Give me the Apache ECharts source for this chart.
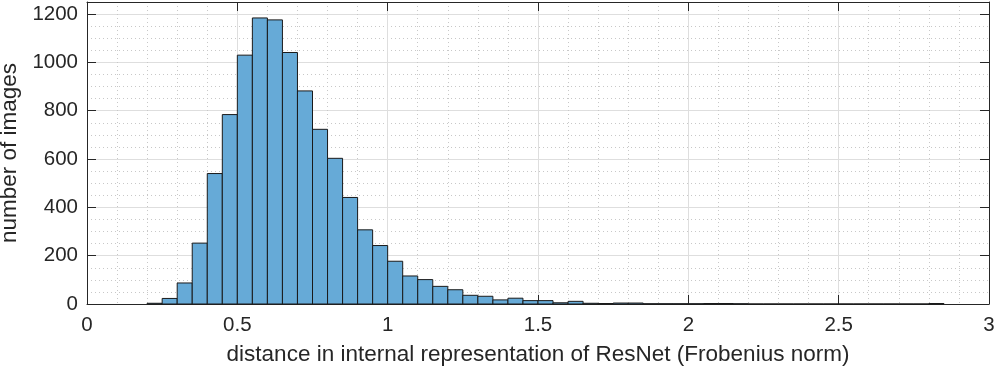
<!DOCTYPE html>
<html>
<head>
<meta charset="utf-8">
<script src="https://cdn.jsdelivr.net/npm/echarts@6/dist/echarts.min.js"></script>
<style>
  html, body { margin: 0; padding: 0; background: #fff; }
  #chart { width: 997px; height: 369px; }
</style>
</head>
<body>
<div id="chart"></div>
<script>
// histogram bins (left edge), width 0.05
const binWidth = 0.05
const binLeft = [
  0.20, 0.25, 0.30, 0.35, 0.40, 0.45, 0.50, 0.55, 0.60, 0.65,
  0.70, 0.75, 0.80, 0.85, 0.90, 0.95, 1.00, 1.05, 1.10, 1.15,
  1.20, 1.25, 1.30, 1.35, 1.40, 1.45, 1.50, 1.55, 1.60, 1.65,
  1.70, 1.75, 1.80, 1.85, 1.90, 1.95, 2.00, 2.05, 2.10, 2.15,
  2.20, 2.25, 2.30, 2.35, 2.40, 2.45, 2.50, 2.55, 2.60, 2.65,
  2.70, 2.75, 2.80
]
const counts = [
  3, 23, 87, 252, 540, 784, 1030, 1184, 1176, 1041,
  882, 723, 603, 441, 307, 242, 177, 116, 101, 73,
  59, 36, 32, 17, 24, 14, 14, 5, 11, 3,
  2, 4, 4, 1, 1, 1, 1, 2, 2, 1,
  0, 0, 0, 0, 0, 0, 0, 0, 0, 0,
  0, 0, 2
]

const font = "'Liberation Sans', Helvetica, Arial, sans-serif"
const ink = '#262626'

const chart = echarts.init(document.getElementById('chart'))

const xCommon = {
  type: 'value', min: 0, max: 3, interval: 0.5,
  axisLine: { show: true, onZero: false, lineStyle: { color: ink, width: 1 } },
  axisTick: { show: true, inside: true, length: 9, lineStyle: { color: ink } }
}
const yCommon = {
  type: 'value', min: 0, max: 1250, interval: 200,
  axisLine: { show: true, onZero: false, lineStyle: { color: ink, width: 1 } },
  axisTick: { show: true, inside: true, length: 9, lineStyle: { color: ink } }
}

chart.setOption({
  animation: false,
  grid: { left: 87, right: 8, top: 2, bottom: 65, containLabel: false, outerBoundsMode: 'none' },
  xAxis: [
    Object.assign({}, xCommon, {
      position: 'bottom',
      name: 'distance in internal representation of ResNet (Frobenius norm)',
      nameLocation: 'middle', nameGap: 39,
      nameTextStyle: { color: ink, fontSize: 22.5, fontFamily: font },
      axisLabel: { color: ink, fontSize: 20.5, fontFamily: font, margin: 11 },
      splitLine: { show: true, lineStyle: { color: '#dedede', width: 1 } },
      minorTick: { show: false, splitNumber: 5 },
      minorSplitLine: { show: true, lineStyle: { color: '#c8c8c8', type: [1, 3], width: 1 } }
    }),
    Object.assign({}, xCommon, {
      position: 'top', axisLabel: { show: false }, splitLine: { show: false }
    })
  ],
  yAxis: [
    Object.assign({}, yCommon, {
      position: 'left',
      name: 'number of images',
      nameLocation: 'middle', nameGap: 56,
      nameTextStyle: { color: ink, fontSize: 22.5, fontFamily: font },
      axisLabel: {
        color: ink, fontSize: 20.5, fontFamily: font, margin: 9,
        formatter: v => (v > 1200 ? '' : String(v))
      },
      splitLine: { show: true, lineStyle: { color: '#dedede', width: 1 } },
      minorTick: { show: false, splitNumber: 4 },
      minorSplitLine: { show: true, lineStyle: { color: '#c8c8c8', type: [1, 3], width: 1 } }
    }),
    Object.assign({}, yCommon, {
      position: 'right', axisLabel: { show: false }, splitLine: { show: false }
    })
  ],
  series: [{
    type: 'custom',
    xAxisIndex: 0,
    yAxisIndex: 0,
    data: binLeft.map((x, i) => [x, x + binWidth, counts[i]]),
    encode: { x: [0, 1], y: 2 },
    renderItem: (params, api) => {
      const p0 = api.coord([api.value(0), api.value(2)])
      const p1 = api.coord([api.value(1), 0])
      return {
        type: 'rect',
        shape: { x: p0[0], y: p0[1], width: p1[0] - p0[0], height: p1[1] - p0[1] },
        style: { fill: '#66aad7', stroke: '#1a1a1a', lineWidth: 1 }
      }
    }
  }]
})
</script>
</body>
</html>
